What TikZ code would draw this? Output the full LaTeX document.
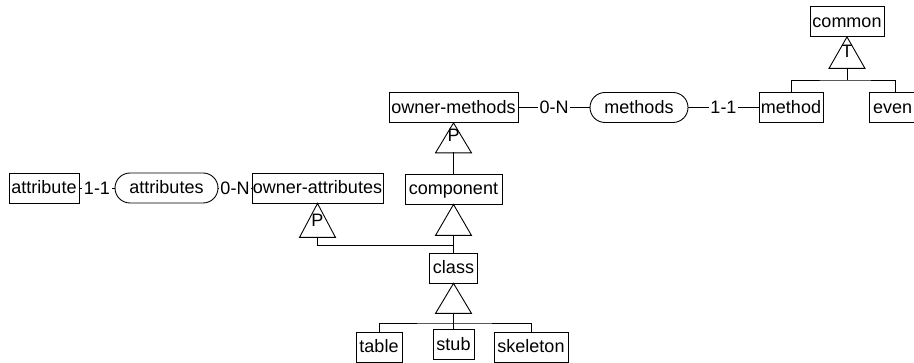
\documentclass[tikz,border=0pt]{standalone}
\usepackage{fontspec}
\setmainfont{Liberation Sans}
\begin{document}
\begin{tikzpicture}[x=1pt,y=-1pt,line width=0.9pt,
  every node/.style={font=\fontsize{18}{20}\selectfont, inner sep=0pt, text height=13pt, text depth=1pt},
  ent/.style={draw, rectangle, minimum height=30pt},
  rel/.style={draw, rounded corners=15pt, minimum height=30pt},
  card/.style={fill=white, inner xsep=1.5pt, inner ysep=0pt, text height=13pt, text depth=0pt},
  isaletter/.style={text height=13pt, text depth=0pt}]
\useasboundingbox (0,0) rectangle (914,363);
\clip (0,0) rectangle (914,363);

% entities and relationships
\node[ent, minimum width=70pt]  (attribute)  at (44,188)     {attribute};
\node[rel, minimum width=103pt] (attributes) at (166.5,188)  {attributes};
\node[ent, minimum width=131pt] (ownattr)    at (317.5,188)  {owner-attributes};
\node[ent, minimum width=97pt]  (component)  at (453.5,189)  {component};
\node[ent, minimum width=129pt] (ownmeth)    at (453.5,107.5){owner-methods};
\node[rel, minimum width=98pt]  (methods)    at (639,107.5)  {methods};
\node[ent, minimum width=64pt]  (method)     at (791,107.5)  {method};
\node[ent, minimum width=53pt, text width=45pt, align=left] (event) at (895.5,107.5) {even};
\node[ent, minimum width=74pt]  (common)     at (847,21.5)   {common};
\node[ent, minimum width=48pt]  (class)      at (453.5,268)  {class};
\node[ent, minimum width=46pt]  (table)      at (379,347)    {table};
\node[ent, minimum width=41pt]  (stub)       at (453.5,344.5){stub};
\node[ent, minimum width=74pt]  (skeleton)   at (531,347)    {skeleton};

% cardinality connectors
\draw (attribute) -- node[card] (c1) {1-1} (attributes);
\draw (attributes) -- node[card] (c2) {0-N} (ownattr);
\draw (ownmeth) -- node[card] (c3) {0-N} (methods);
\draw (methods) -- node[card] (c4) {1-1} (method);

% ISA triangles
\draw (ownattr.south) -- ++(-18,34) -- ++(36,0) -- cycle;
\coordinate (pa) at (317.5,237);
\node[isaletter] (lp1) at (317.5,220) {P};

\draw (ownmeth.south) -- ++(-18,30) -- ++(36,0) -- cycle;
\coordinate (pm) at (453.5,152.5);
\node[isaletter] (lp2) at (453.5,135.5) {P};

\draw (component.south) -- ++(-18,31) -- ++(36,0) -- cycle;
\coordinate (cb) at (453.5,235);

\draw (class.south) -- ++(-18,30) -- ++(36,0) -- cycle;
\coordinate (kb) at (453.5,313);

\draw (common.south) -- ++(-18,31.5) -- ++(36,0) -- cycle;
\coordinate (tb) at (847,68);
\node[isaletter] (lt) at (847,51.5) {T};

% hierarchy lines
\coordinate (junction) at (453.5,245);
\coordinate (kbar) at (453.5,323);
\coordinate (tbar) at (847,80);

\draw (pm) -- (component.north);
\draw (cb) -- (class.north);
\draw (pa) |- (junction);
\draw (kb) -- (stub.north);
\draw (table.north) |- (kbar) -| (skeleton.north);
\draw (tb) -- (tbar);
\draw (method.north) |- (tbar) -| (event.north);
\end{tikzpicture}
\end{document}
